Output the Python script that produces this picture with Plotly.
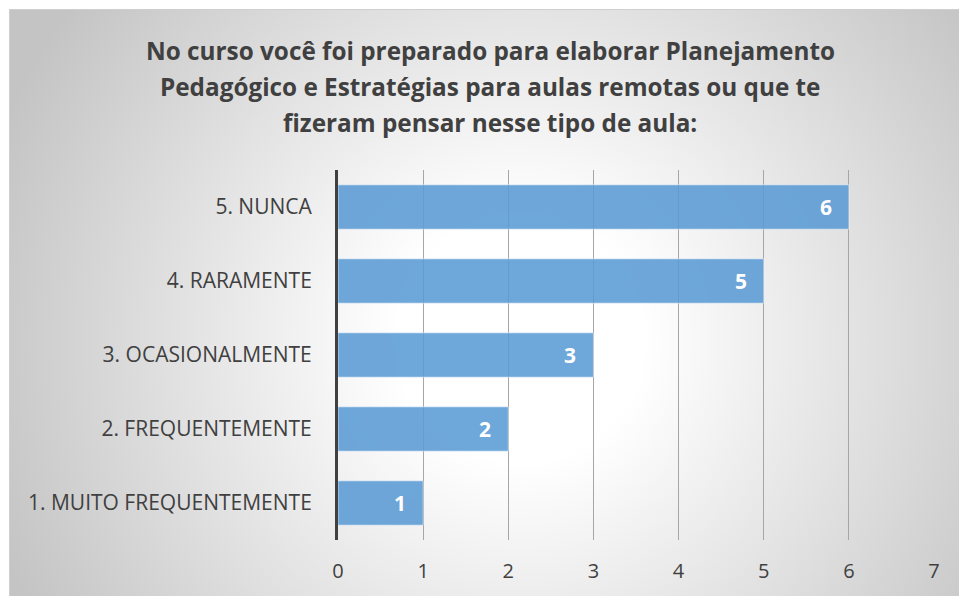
import base64
import plotly.graph_objects as go

categories = ["1. MUITO FREQUENTEMENTE", "2. FREQUENTEMENTE", "3. OCASIONALMENTE", "4. RARAMENTE", "5. NUNCA"]
values = [1, 2, 3, 5, 6]
x_ticks = [0, 1, 2, 3, 4, 5, 6, 7]
title_lines = ["No curso você foi preparado para elaborar Planejamento",
               "Pedagógico e Estratégias para aulas remotas ou que te",
               "fizeram pensar nesse tipo de aula:"]

W, H = 959, 596
L, R, T, B = 338, 25, 170, 56
pw, ph = W - L - R, H - T - B

IW, IH = 960, 600
svg = (f'<svg xmlns="http://www.w3.org/2000/svg" width="{IW}" height="{IH}" viewBox="0 0 {IW} {IH}" preserveAspectRatio="none">'
       '<defs><radialGradient id="g" gradientUnits="userSpaceOnUse" cx="511" cy="330" r="560" fx="511" fy="330">'
       '<stop offset="0" stop-color="#ffffff"/><stop offset="0.22" stop-color="#ffffff"/>'
       '<stop offset="1" stop-color="#c4c4c4"/></radialGradient></defs>'
       f'<rect x="0.5" y="0.5" width="{IW + 20}" height="{IH + 20}" fill="url(#g)" stroke="#cfcfcf" stroke-width="1"/></svg>')
src = "data:image/svg+xml;base64," + base64.b64encode(svg.encode()).decode()

ff = "'Open Sans', sans-serif"

fig = go.Figure()
fig.add_trace(go.Bar(
    x=values, y=categories, orientation="h",
    marker=dict(color="#5b9bd5", opacity=0.88, line=dict(color="rgba(255,255,255,0.55)", width=1)),
    hoverinfo="skip",
))
for v, c in zip(values, categories):
    fig.add_annotation(x=v, y=c, text=f"<b>{v}</b>", showarrow=False, xanchor="right",
                       xshift=-15, font=dict(color="white", size=21, family=ff))

title_y_px = [50, 86, 122]
for line, ypx in zip(title_lines, title_y_px):
    fig.add_annotation(xref="paper", yref="paper", x=(490 - L) / pw, y=1 + (T - ypx) / ph,
                       text=f"<b>{line}</b>", showarrow=False, xanchor="center", yanchor="middle",
                       font=dict(size=24.3, color="#404040", family=ff))

fig.update_layout(
    width=W, height=H,
    margin=dict(l=L, r=R, t=T, b=B),
    paper_bgcolor="white",
    plot_bgcolor="rgba(0,0,0,0)",
    bargap=0.4,
    showlegend=False,
    xaxis=dict(range=[0, 7], tickvals=x_ticks, showgrid=True, gridcolor="#a6a6a6", gridwidth=1,
               zeroline=False, showline=False, ticks="", ticklabelstandoff=17,
               tickfont=dict(size=20, color="#404040", family=ff)),
    yaxis=dict(showgrid=False, zeroline=False, showline=True, linecolor="#404040", linewidth=3,
               ticks="", ticklabelstandoff=19,
               tickfont=dict(size=21, color="#404040", family=ff)),
    images=[dict(source=src, xref="paper", yref="paper",
                 x=(9 - L) / pw, y=1 + (T - 9) / ph,
                 sizex=IW / pw, sizey=IH / ph,
                 xanchor="left", yanchor="top", sizing="stretch", layer="below")],
)
fig.write_html("out.html", config={"displayModeBar": False},
               post_script="document.body.style.margin='0';document.body.style.overflow='hidden';")
